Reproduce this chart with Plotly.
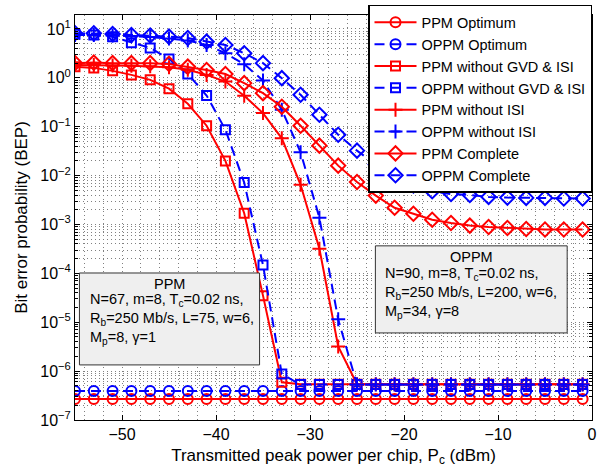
import plotly.graph_objects as go

# ---------------- data ----------------
pc_dbm = [-55, -53, -51, -49, -47, -45, -43, -41, -39, -37, -35, -33, -31, -29,
          -27, -25, -23, -21, -19, -17, -15, -13, -11, -9, -7, -5, -3, -1]

ppm_optimum = [2.7e-7, 2.7e-7, 2.7e-7, 2.7e-7, 2.7e-7, 2.7e-7, 2.7e-7, 2.7e-7, 2.7e-7, 2.7e-7,
               2.7e-7, 2.7e-7, 2.7e-7, 2.7e-7, 2.7e-7, 2.7e-7, 2.7e-7, 2.7e-7, 2.7e-7, 2.7e-7,
               2.7e-7, 2.7e-7, 2.7e-7, 2.7e-7, 2.7e-7, 2.7e-7, 2.7e-7, 2.7e-7]
oppm_optimum = [3.9e-7, 3.9e-7, 3.9e-7, 3.9e-7, 3.9e-7, 3.9e-7, 3.9e-7, 3.9e-7, 3.9e-7, 3.9e-7,
                3.9e-7, 3.9e-7, 3.9e-7, 3.9e-7, 3.9e-7, 3.9e-7, 3.9e-7, 3.9e-7, 3.9e-7, 3.9e-7,
                3.9e-7, 3.9e-7, 3.9e-7, 3.9e-7, 3.9e-7, 3.9e-7, 3.9e-7, 3.9e-7]
ppm_no_gvd_isi = [1.68, 1.6, 1.39, 1.15, 0.91, 0.60, 0.295, 0.105, 0.02, 1.7e-3, 3.5e-5, 5.9e-7,
                  5.4e-7, 5.4e-7, 5.4e-7, 5.4e-7, 5.4e-7, 5.4e-7, 5.4e-7, 5.4e-7, 5.4e-7, 5.4e-7,
                  5.4e-7, 5.4e-7, 5.4e-7, 5.4e-7, 5.4e-7, 5.4e-7]
oppm_no_gvd_isi = [7.8, 7.5, 6.9, 5.25, 4.1, 2.44, 1.2, 0.435, 0.087, 7.2e-3, 1.48e-4, 8.7e-7,
                   5.3e-7, 5.3e-7, 5.3e-7, 5.3e-7, 5.3e-7, 5.3e-7, 5.3e-7, 5.3e-7, 5.3e-7, 5.3e-7,
                   5.3e-7, 5.3e-7, 5.3e-7, 5.3e-7, 5.3e-7, 5.3e-7]
ppm_no_isi = [1.84, 1.84, 1.80, 1.76, 1.72, 1.64, 1.46, 1.15, 0.84, 0.43, 0.19, 0.058, 0.0065,
              3.2e-4, 3.2e-6, 5.4e-7, 5.4e-7, 5.4e-7, 5.4e-7, 5.4e-7, 5.4e-7, 5.4e-7, 5.4e-7,
              5.4e-7, 5.4e-7, 5.4e-7, 5.4e-7, 5.4e-7]
oppm_no_isi = [7.54, 7.54, 7.36, 7.2, 6.87, 6.4, 5.82, 4.71, 3.19, 1.9, 0.88, 0.222, 0.030,
               1.37e-3, 1.15e-5, 5.3e-7, 5.3e-7, 5.3e-7, 5.3e-7, 5.3e-7, 5.3e-7, 5.3e-7, 5.3e-7,
               5.3e-7, 5.3e-7, 5.3e-7, 5.3e-7, 5.3e-7]
ppm_complete = [2.0, 2.05, 2.0, 2.0, 2.0, 1.93, 1.70, 1.45, 1.2, 0.78, 0.487, 0.256, 0.105, 0.041,
                0.016, 0.0074, 0.0039, 0.0022, 0.00166, 0.00125, 0.00107, 0.00095, 0.00089,
                0.00085, 0.00081, 0.00079, 0.00079, 0.00079]
oppm_complete = [8.17, 8.17, 7.9, 7.55, 7.36, 6.97, 6.55, 5.5, 4.71, 3.19, 2.0, 0.985, 0.45, 0.176,
                 0.0687, 0.0324, 0.0168, 0.0095, 0.0063, 0.0048, 0.0042, 0.0040, 0.00367,
                 0.00355, 0.0035, 0.0035, 0.0034, 0.0034]

x_tick_vals = [-50, -40, -30, -20, -10, 0]
x_tick_text = ["\u221250", "\u221240", "\u221230", "\u221220", "\u221210", "0"]
y_tick_exps = [-7, -6, -5, -4, -3, -2, -1, 0, 1]

series = [
    ("PPM Optimum", ppm_optimum, "red", "solid", "circle-open", 10),
    ("OPPM Optimum", oppm_optimum, "blue", "10px,6px", "circle-open", 10),
    ("PPM without GVD & ISI", ppm_no_gvd_isi, "red", "solid", "square-open", 9),
    ("OPPM without GVD & ISI", oppm_no_gvd_isi, "blue", "10px,6px", "square-open", 9),
    ("PPM without ISI", ppm_no_isi, "red", "solid", "cross-thin-open", 10),
    ("OPPM without ISI", oppm_no_isi, "blue", "10px,6px", "cross-thin-open", 10),
    ("PPM Complete", ppm_complete, "red", "solid", "diamond-open", 11),
    ("OPPM Complete", oppm_complete, "blue", "10px,6px", "diamond-open", 11),
]

FONT = "Liberation Sans, Arial, Helvetica, sans-serif"

fig = go.Figure()
for name, vals, col, dash, sym, sz in series:
    fig.add_trace(go.Scatter(
        x=pc_dbm, y=vals, name=name, mode="lines+markers",
        line=dict(color=col, width=2, dash=dash),
        marker=dict(symbol=sym, size=sz, color=col, line=dict(color=col, width=2)),
    ))

y_tick_vals = [10.0 ** e for e in y_tick_exps]
y_tick_text = [("10<sup>\u2212%d</sup>" % -e) if e < 0 else ("10<sup>%d</sup>" % e) for e in y_tick_exps]
y_minor_vals = [k * 10.0 ** e for e in y_tick_exps for k in range(2, 10)]

grid_col = "#808080"
grid_dash = "1px,3px"

fig.update_xaxes(
    range=[-55, 0], tickmode="array", tickvals=x_tick_vals, ticktext=x_tick_text,
    ticks="inside", ticklen=5, tickcolor="black", showline=True, linecolor="black",
    linewidth=1, mirror="ticks", showgrid=True, gridcolor=grid_col, griddash=grid_dash,
    gridwidth=1, zeroline=False, tickfont=dict(size=16, color="black", family=FONT),
    ticklabeloverflow="allow",
    minor=dict(tickmode="linear", tick0=0, dtick=2, showgrid=True, gridcolor=grid_col,
               griddash=grid_dash, gridwidth=1, ticks=""),
    title=dict(text="Transmitted peak power per chip, P<sub>c</sub> (dBm)",
               font=dict(size=17, color="black", family=FONT), standoff=6),
)
fig.update_yaxes(
    type="log", range=[-7, 1.286], tickmode="array", tickvals=y_tick_vals, ticktext=y_tick_text,
    ticks="inside", ticklen=5, tickcolor="black", showline=True, linecolor="black",
    linewidth=1, mirror="ticks", showgrid=True, gridcolor=grid_col, griddash=grid_dash,
    gridwidth=1, zeroline=False, tickfont=dict(size=16, color="black", family=FONT),
    minor=dict(tickmode="array", tickvals=y_minor_vals, showgrid=True, gridcolor=grid_col,
               griddash=grid_dash, gridwidth=1, ticks="inside", ticklen=3, tickcolor="black"),
    title=dict(text="Bit error probability (BEP)",
               font=dict(size=17, color="black", family=FONT), standoff=8),
)

# annotation boxes
box_fill = "#efefef"
box_line = "#333333"
fig.add_shape(type="rect", xref="paper", yref="paper", x0=0.0086, x1=0.357, y0=0.136, y1=0.363,
              fillcolor=box_fill, line=dict(color=box_line, width=1), layer="above")
fig.add_shape(type="rect", xref="paper", yref="paper", x0=0.581, x1=0.952, y0=0.215, y1=0.430,
              fillcolor=box_fill, line=dict(color=box_line, width=1), layer="above")

afont = dict(size=14.5, color="black", family=FONT)
fig.add_annotation(xref="paper", yref="paper", x=0.1828, y=0.336, text="PPM", showarrow=False,
                   xanchor="center", yanchor="middle", font=afont)
fig.add_annotation(xref="paper", yref="paper", x=0.0245, y=0.249,
                   text="N=67, m=8, T<sub>c</sub>=0.02 ns,<br>R<sub>b</sub>=250 Mb/s, L=75, w=6,<br>M<sub>p</sub>=8, \u03b3=1",
                   showarrow=False, xanchor="left", yanchor="middle", align="left", font=afont)
fig.add_annotation(xref="paper", yref="paper", x=0.7665, y=0.4025, text="OPPM", showarrow=False,
                   xanchor="center", yanchor="middle", font=afont)
fig.add_annotation(xref="paper", yref="paper", x=0.596, y=0.3136,
                   text="N=90, m=8, T<sub>c</sub>=0.02 ns,<br>R<sub>b</sub>=250 Mb/s, L=200, w=6,<br>M<sub>p</sub>=34, \u03b3=8",
                   showarrow=False, xanchor="left", yanchor="middle", align="left", font=afont)

fig.update_layout(
    width=599, height=474,
    margin=dict(l=75, r=2, t=15, b=54),
    paper_bgcolor="white", plot_bgcolor="white",
    font=dict(family=FONT, color="black"),
    showlegend=True,
    legend=dict(x=1.0, y=1.025, xanchor="right", yanchor="top", bgcolor="white",
                bordercolor="black", borderwidth=1.5, font=dict(size=14.5, color="black", family=FONT),
                itemwidth=42, tracegroupgap=0),
)

fig.write_html("out.html")
